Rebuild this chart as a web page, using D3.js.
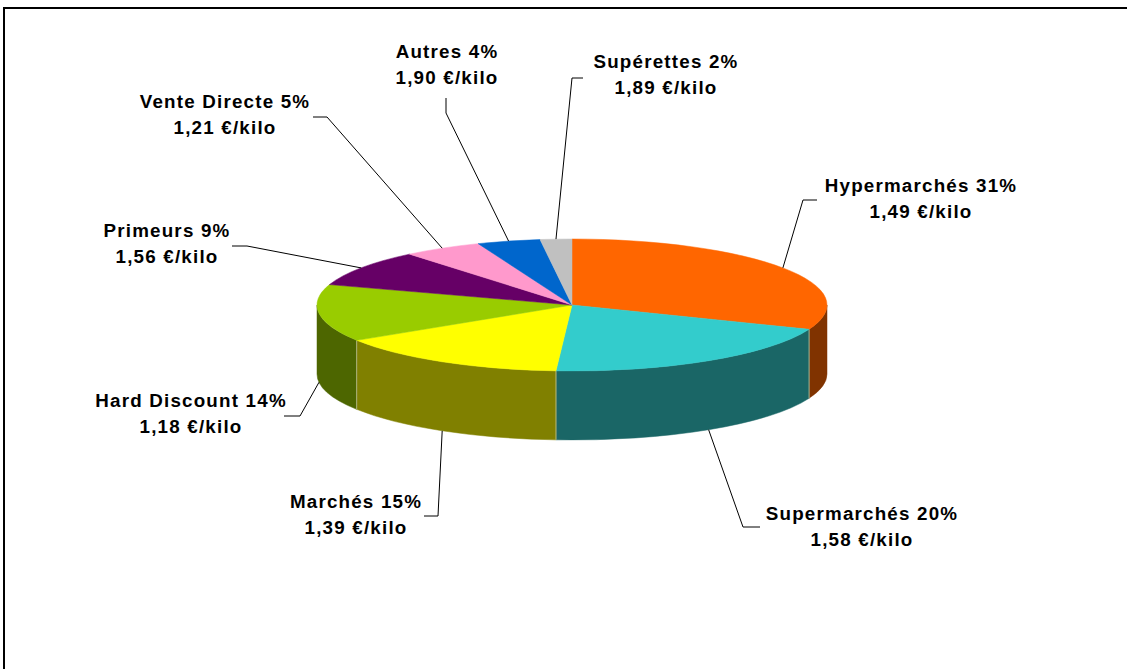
<!DOCTYPE html>
<html><head><meta charset="utf-8">
<script src="https://cdn.jsdelivr.net/npm/d3@7"></script>
<style>
html,body{margin:0;padding:0;background:#fff;overflow:hidden}
text{font-family:"Liberation Sans",Arial,sans-serif;font-weight:bold;font-size:18.8px;letter-spacing:1.2px;fill:#000}
</style></head>
<body>
<svg id="chart" width="1127" height="669"></svg>
<script>
// ---- data ----
const categories = ["Hypermarchés","Supermarchés","Marchés","Hard Discount","Primeurs","Vente Directe","Autres","Supérettes"];
const shares = [31,20,15,14,9,5,4,2];
const prices = ["1,49","1,58","1,39","1,18","1,56","1,21","1,90","1,89"];
const colors = ["#FF6600","#33CCCC","#FFFF00","#99CC00","#660066","#FF99CC","#0066CC","#C0C0C0"];

// ---- layout (label anchors: text centre x, first baseline y, leader elbow) ----
const labelLayout = [
  {x:921, y:192, elbow:[[817,200],[803,200]]},
  {x:862, y:520, elbow:[[760,527],[743,527]]},
  {x:356, y:508, elbow:[[424,516],[438,516]]},
  {x:191, y:407, elbow:[[284,416],[300,416]]},
  {x:167, y:237, elbow:[[232,246],[247,246]]},
  {x:225, y:108, elbow:[[313,117],[327,117]]},
  {x:447, y:58,  elbow:[[446,98],[446,113]]},
  {x:666, y:68,  elbow:[[583,78],[572,78]]}
];

const svg = d3.select("#chart");
const cx = 572, cy = 305, rx = 255, ry = 66, depth = 69;

// frame
svg.append("rect").attr("x",4).attr("y",8).attr("width",1140).attr("height",700)
  .attr("fill","none").attr("stroke","#000").attr("stroke-width",2);

const pie = d3.pie().sort(null).value(d => d.v).startAngle(0).endAngle(2*Math.PI);
const arcs = pie(shares.map((v,i)=>({v,i})));

const px = a => cx + rx*Math.sin(a);
const py = a => cy - ry*Math.cos(a);
const dark = c => { const k = d3.rgb(c); return d3.rgb(k.r*0.5,k.g*0.5,k.b*0.5).toString(); };

// side faces (front half: angles PI/2 .. 3PI/2)
const g = svg.append("g");
arcs.forEach(a => {
  const a0 = Math.max(a.startAngle, Math.PI/2), a1 = Math.min(a.endAngle, 3*Math.PI/2);
  if (a1 <= a0) return;
  const large = (a1-a0) > Math.PI ? 1 : 0;
  const p = `M${px(a0)},${py(a0)} A${rx},${ry} 0 ${large} 1 ${px(a1)},${py(a1)} L${px(a1)},${py(a1)+depth} A${rx},${ry} 0 ${large} 0 ${px(a0)},${py(a0)+depth} Z`;
  g.append("path").attr("d",p).attr("fill",dark(colors[a.data.i]))
   .attr("stroke",dark(colors[a.data.i])).attr("stroke-width",0.5);
});
// side separators (light edges)
arcs.forEach(a => {
  const t = a.endAngle;
  if (t > Math.PI/2 && t < 3*Math.PI/2) {
    g.append("line").attr("x1",px(t)).attr("y1",py(t)).attr("x2",px(t)).attr("y2",py(t)+depth)
     .attr("stroke","#c8c8a0").attr("stroke-width",0.8);
  }
});
// top faces
arcs.forEach(a => {
  const large = (a.endAngle-a.startAngle) > Math.PI ? 1 : 0;
  const p = `M${cx},${cy} L${px(a.startAngle)},${py(a.startAngle)} A${rx},${ry} 0 ${large} 1 ${px(a.endAngle)},${py(a.endAngle)} Z`;
  g.append("path").attr("d",p).attr("fill",colors[a.data.i])
   .attr("stroke",colors[a.data.i]).attr("stroke-width",0.5);
});

// leader lines and labels
arcs.forEach((a,k) => {
  const i = a.data.i, L = labelLayout[i];
  const m = (a.startAngle + a.endAngle)/2;
  const front = m > Math.PI/2 && m < 3*Math.PI/2;
  const end = [px(m), py(m) + (front ? depth : 0)];
  const pts = L.elbow.concat([end]);
  svg.append("path").attr("d", d3.line()(pts)).attr("fill","none")
     .attr("stroke","#000").attr("stroke-width",1);
  const t = svg.append("text").attr("text-anchor","middle");
  t.append("tspan").attr("x",L.x).attr("y",L.y).text(`${categories[i]} ${shares[i]}%`);
  t.append("tspan").attr("x",L.x).attr("y",L.y+26).text(`${prices[i]} €/kilo`);
});
</script>
</body></html>
